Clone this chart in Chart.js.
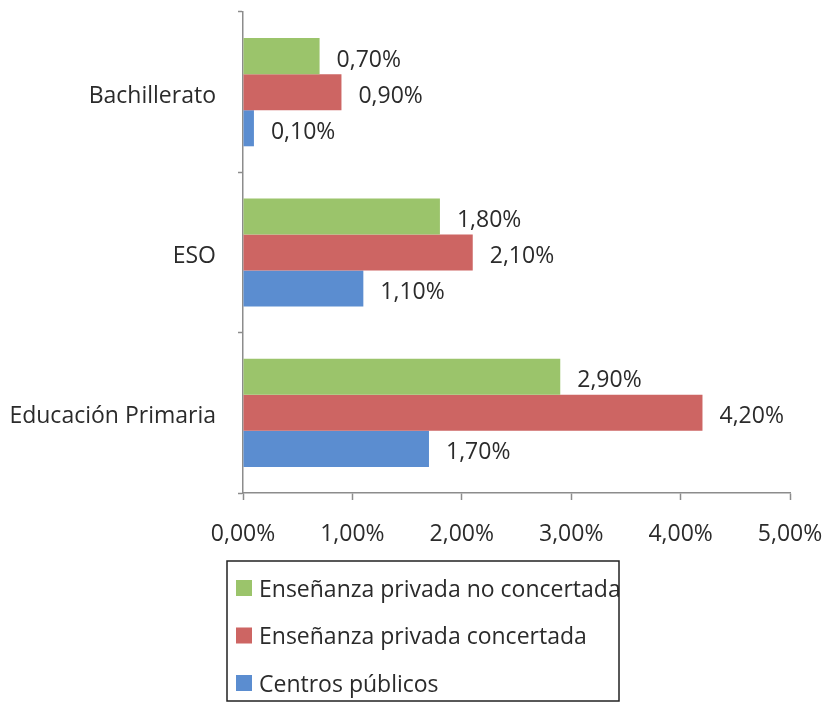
<!DOCTYPE html>
<html>
<head>
<meta charset="utf-8">
<script src="https://cdn.jsdelivr.net/npm/chart.js@4/dist/chart.umd.min.js"></script>
<style>
  body { margin: 0; background: #fff; }
  #wrap { width: 833px; height: 702px; }
</style>
</head>
<body>
<div id="wrap"><canvas id="grafico" width="833" height="702"></canvas></div>
<script>
const categorias = ["Bachillerato", "ESO", "Educación Primaria"];
const noConcertada = [0.7, 1.8, 2.9];
const concertada = [0.9, 2.1, 4.2];
const publicos = [0.1, 1.1, 1.7];
const ticksX = [0, 1, 2, 3, 4, 5];

const fuente = "'Open Sans', sans-serif";
const colorTexto = "#2b2b2b";
const colorEje = "#8c8c8c";

const formatoPct = v => Number(v).toFixed(2).replace(".", ",") + "%";

// etiquetas de valor a la derecha de cada barra
const etiquetas = {
    id: "etiquetas",
    afterDatasetsDraw(chart) {
        const ctx = chart.ctx;
        ctx.save();
        ctx.font = "23px " + fuente;
        ctx.fillStyle = colorTexto;
        ctx.textAlign = "left";
        ctx.textBaseline = "middle";
        chart.data.datasets.forEach((ds, i) => {
            chart.getDatasetMeta(i).data.forEach((barra, j) => {
                ctx.fillText(formatoPct(ds.data[j]), barra.x + 17, barra.y + 4);
            });
        });
        ctx.restore();
    }
};

// leyenda en caja, abajo
const leyenda = {
    id: "leyendaCaja",
    afterDraw(chart) {
        const ctx = chart.ctx;
        const caja = { x: 227, y: 561, w: 392, h: 140 };
        ctx.save();
        ctx.beginPath();
        ctx.rect(caja.x, caja.y, caja.w, caja.h);
        ctx.clip();
        ctx.font = "23px " + fuente;
        ctx.textAlign = "left";
        ctx.textBaseline = "middle";
        chart.data.datasets.forEach((ds, i) => {
            const y = 588 + i * 47.5;
            ctx.fillStyle = ds.backgroundColor;
            ctx.fillRect(236, y - 8, 16, 16);
            ctx.fillStyle = colorTexto;
            ctx.fillText(ds.label, 259, y + 2);
        });
        ctx.restore();
        ctx.save();
        ctx.strokeStyle = "#222";
        ctx.lineWidth = 1.5;
        ctx.strokeRect(caja.x, caja.y, caja.w, caja.h);
        ctx.restore();
    }
};

new Chart(document.getElementById("grafico"), {
    type: "bar",
    data: {
        labels: categorias,
        datasets: [
            { label: "Enseñanza privada no concertada", data: noConcertada, backgroundColor: "#9BC46B" },
            { label: "Enseñanza privada concertada", data: concertada, backgroundColor: "#CD6563" },
            { label: "Centros públicos", data: publicos, backgroundColor: "#5B8DD0" }
        ]
    },
    options: {
        indexAxis: "y",
        responsive: false,
        animation: false,
        layout: { padding: { top: 12, right: 43, left: 0, bottom: 0 } },
        datasets: { bar: { categoryPercentage: 0.675, barPercentage: 1.0 } },
        plugins: {
            legend: { display: false },
            tooltip: { enabled: false }
        },
        scales: {
            x: {
                min: 0,
                max: 5,
                afterFit(scale) {
                    scale.height = 209;
                    scale.paddingLeft = 0;
                    scale.paddingRight = 0;
                },
                afterBuildTicks(scale) { scale.ticks = ticksX.map(v => ({ value: v })); },
                grid: { drawOnChartArea: false, tickLength: 7, color: colorEje, tickWidth: 1.5 },
                border: { color: colorEje, width: 1.5 },
                ticks: {
                    padding: 21,
                    color: colorTexto,
                    font: { family: fuente, size: 23 },
                    callback: v => formatoPct(v)
                }
            },
            y: {
                afterFit(scale) {
                    scale.width = 243;
                    scale.paddingTop = 0;
                    scale.paddingBottom = 0;
                },
                grid: { drawOnChartArea: false, tickLength: 5, color: colorEje, tickWidth: 1.5, offset: true },
                border: { color: colorEje, width: 1.5 },
                ticks: {
                    padding: 22,
                    labelOffset: 4,
                    color: colorTexto,
                    font: { family: fuente, size: 23 }
                }
            }
        }
    },
    plugins: [etiquetas, leyenda]
});
</script>
</body>
</html>
